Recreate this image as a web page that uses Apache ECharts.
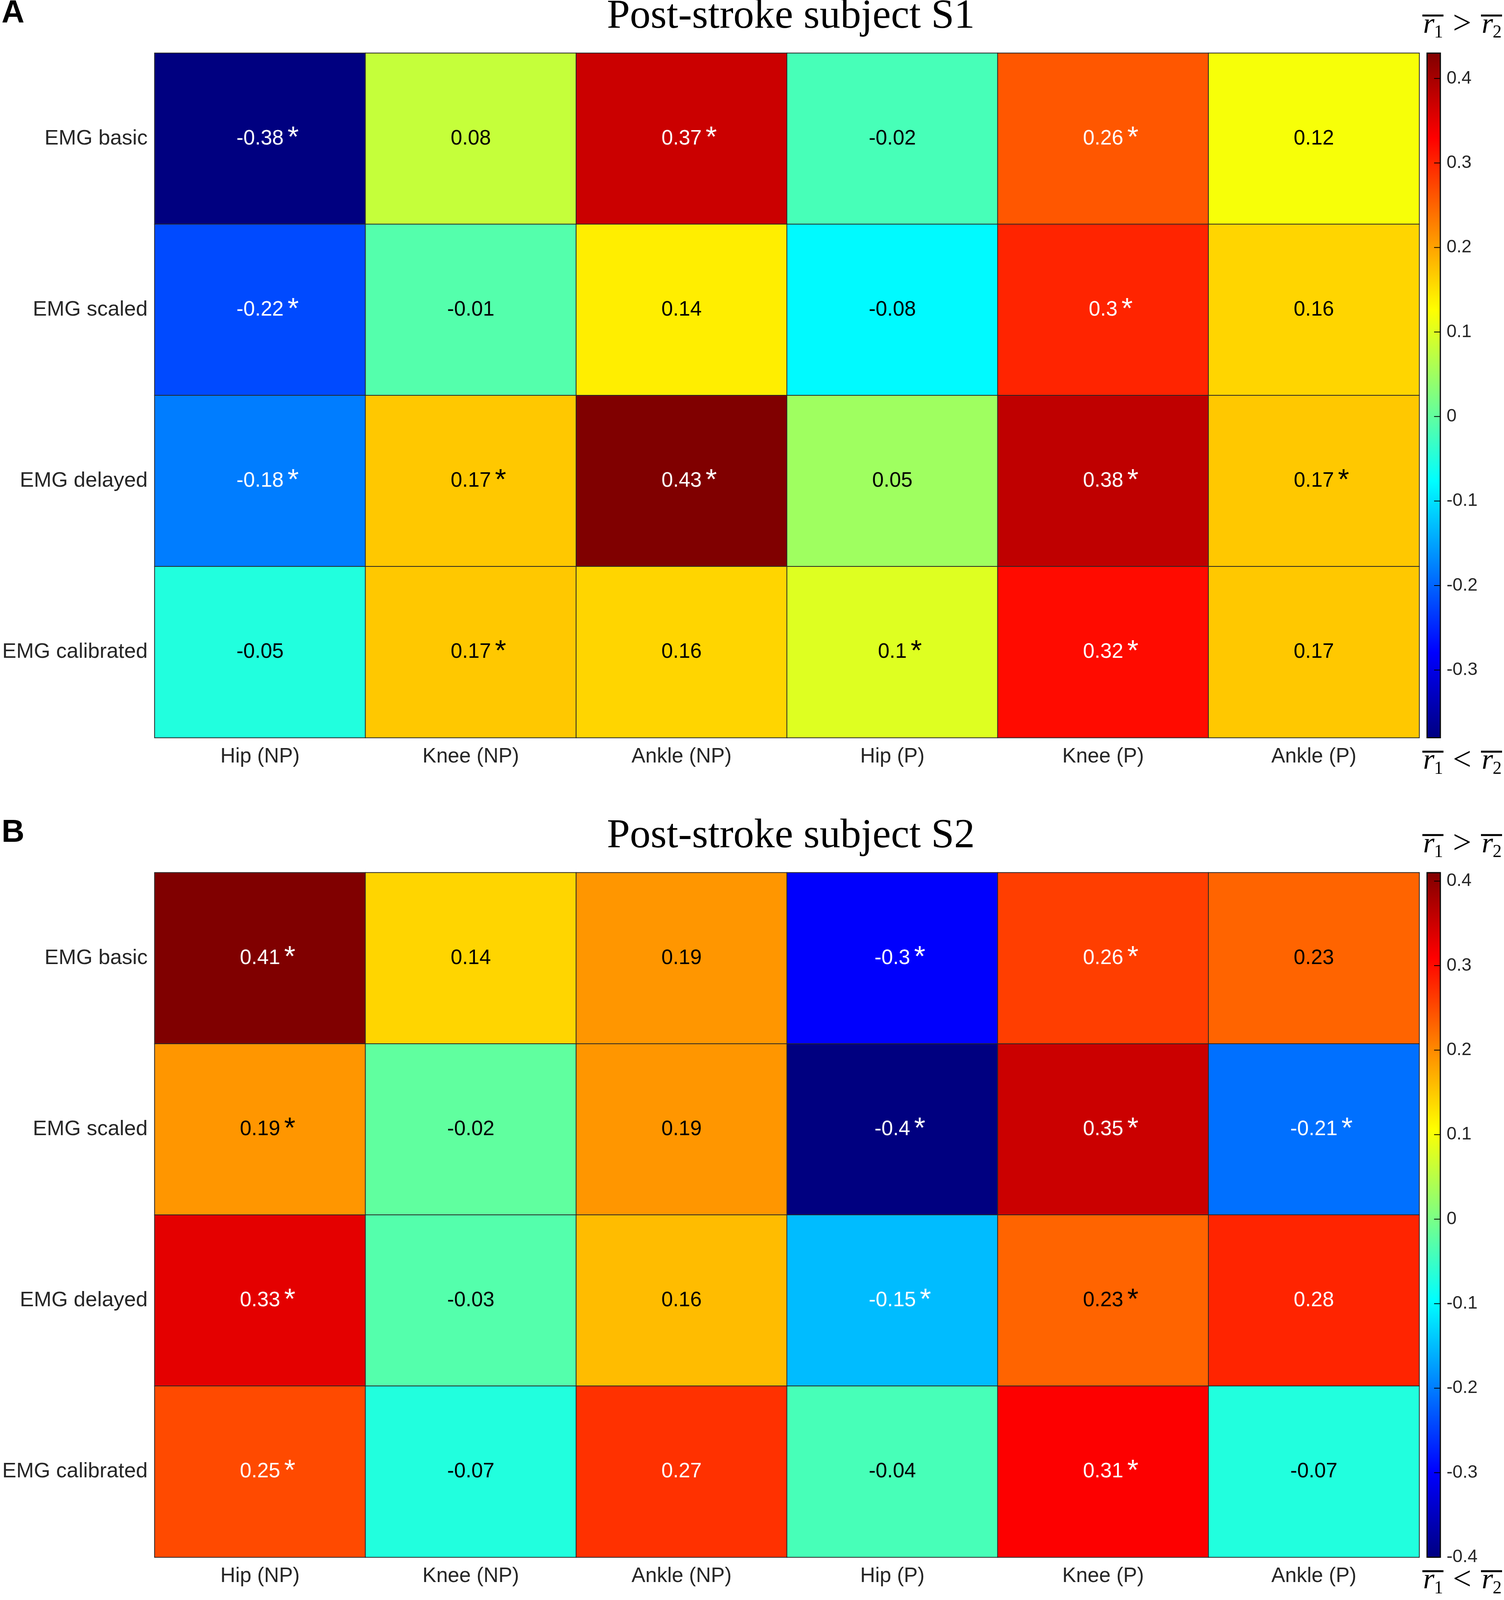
<!DOCTYPE html>
<html>
<head>
<meta charset="utf-8">
<title>Post-stroke subjects S1 / S2</title>
<script src="https://cdn.jsdelivr.net/npm/echarts@6/dist/echarts.min.js"></script>
<style>
  html, body { margin: 0; padding: 0; background: #fff; overflow: hidden; }
  #chart { width: 3851px; height: 4338px; }
</style>
</head>
<body>
<div id="chart"></div>
<script>
// joints (columns) and EMG models (rows)
const joints = ["Hip (NP)", "Knee (NP)", "Ankle (NP)", "Hip (P)", "Knee (P)", "Ankle (P)"];
const models = ["EMG basic", "EMG scaled", "EMG delayed", "EMG calibrated"];

// subject S1
const s1Values = [
  [-0.38, 0.08, 0.37, -0.02, 0.26, 0.12],
  [-0.22, -0.01, 0.14, -0.08, 0.3, 0.16],
  [-0.18, 0.17, 0.43, 0.05, 0.38, 0.17],
  [-0.05, 0.17, 0.16, 0.1, 0.32, 0.17]
];
const s1Signif = [
  [1, 0, 1, 0, 1, 0],
  [1, 0, 0, 0, 1, 0],
  [1, 1, 1, 0, 1, 1],
  [0, 1, 0, 1, 1, 0]
];

// subject S2
const s2Values = [
  [0.41, 0.14, 0.19, -0.3, 0.26, 0.23],
  [0.19, -0.02, 0.19, -0.4, 0.35, -0.21],
  [0.33, -0.03, 0.16, -0.15, 0.23, 0.28],
  [0.25, -0.07, 0.27, -0.04, 0.31, -0.07]
];
const s2Signif = [
  [1, 0, 0, 1, 1, 0],
  [1, 0, 0, 1, 1, 1],
  [1, 0, 0, 1, 1, 0],
  [1, 0, 0, 0, 1, 0]
];

// colorbar tick labels
const s1Ticks = [-0.3, -0.2, -0.1, 0, 0.1, 0.2, 0.3, 0.4];
const s2Ticks = [-0.4, -0.3, -0.2, -0.1, 0, 0.1, 0.2, 0.3, 0.4];

const titles = ["Post-stroke subject S1", "Post-stroke subject S2"];
const panelLetters = ["A", "B"];

// matlab jet
const JET = ["#000080", "#0000ff", "#0080ff", "#00ffff", "#80ff80", "#ffff00", "#ff8000", "#ff0000", "#800000"];
const SANS = "Liberation Sans, Arial, Helvetica, sans-serif";
const SERIF = "Liberation Serif, Times New Roman, serif";
const TXT = "#262626";

// the layout is measured on a 3851 x 4338 page; stretch it to the real viewport height
const dom = document.getElementById("chart");
const viewH = window.innerHeight || 4338;
dom.style.height = viewH + "px";
const sy = viewH / 4338;
const Y = (v) => v * sy;

const GRID_LEFT = 396, GRID_W = 3238, GRID_H = 1856;
const CB_LEFT = 3654, CB_W = 34;
const PANEL_TOP = [144, 2366];
const DY = PANEL_TOP[1] - PANEL_TOP[0];

function cells(values, signif) {
  const out = [];
  values.forEach((row, r) => row.forEach((v, c) => {
    out.push({
      value: [c, r, v, signif[r][c]],
      label: { color: (v >= 0.25 || v <= -0.15) ? "#fff" : "#000" }
    });
  }));
  return out;
}

function flat(values) {
  return values.reduce((a, r) => a.concat(r), []);
}

const panels = [
  { values: s1Values, signif: s1Signif, ticks: s1Ticks },
  { values: s2Values, signif: s2Signif, ticks: s2Ticks }
];

const grid = [], xAxis = [], yAxis = [], series = [], visualMap = [], graphic = [];

panels.forEach((p, i) => {
  const top = Y(PANEL_TOP[i]);
  const h = Y(GRID_H);
  const all = flat(p.values);
  const vmin = Math.min(...all), vmax = Math.max(...all);

  // heatmap grid
  grid.push({ left: GRID_LEFT, top: top, width: GRID_W, height: h });
  xAxis.push({
    type: "category", gridIndex: grid.length - 1, data: joints, position: "bottom",
    axisLine: { show: false }, axisTick: { show: false }, splitArea: { show: false },
    axisLabel: { fontSize: 53, fontFamily: SANS, color: TXT, margin: Y(24) }
  });
  yAxis.push({
    type: "category", gridIndex: grid.length - 1, data: models, inverse: true,
    axisLine: { show: false }, axisTick: { show: false }, splitArea: { show: false },
    axisLabel: { fontSize: 54, fontFamily: SANS, color: TXT, margin: 18 }
  });
  const heatIndex = series.length;
  series.push({
    type: "heatmap",
    xAxisIndex: xAxis.length - 1, yAxisIndex: yAxis.length - 1,
    data: cells(p.values, p.signif),
    itemStyle: { borderColor: "#262626", borderWidth: 2 },
    emphasis: { disabled: true },
    label: {
      show: true,
      formatter: (d) => {
        const t = String(d.value[2]);
        return d.value[3] ? "{p| }{n|" + t + "}{s|*}" : "{n|" + t + "}";
      },
      rich: {
        n: { fontSize: 53, fontFamily: SANS },
        s: { fontSize: 74, fontFamily: SANS, padding: [0, 0, 0, 10] },
        p: { width: 39, fontSize: 10 }
      }
    }
  });

  visualMap.push({
    type: "continuous", show: false, seriesIndex: heatIndex, dimension: 2,
    min: vmin, max: vmax, inRange: { color: JET }
  });

  // colorbar: gradient strip, a value axis for the labels, short inner ticks
  graphic.push({
    type: "rect", z: 1,
    shape: { x: CB_LEFT, y: top, width: CB_W, height: h },
    style: {
      fill: new echarts.graphic.LinearGradient(0, 0, 0, 1,
        JET.slice().reverse().map((c, k) => ({ offset: k / (JET.length - 1), color: c }))),
      stroke: "#000", lineWidth: 3
    }
  });
  grid.push({ left: CB_LEFT, top: top, width: CB_W, height: h });
  xAxis.push({ type: "value", gridIndex: grid.length - 1, min: 0, max: 1, show: false });
  yAxis.push({
    type: "value", gridIndex: grid.length - 1, position: "right",
    min: vmin, max: vmax,
    axisLine: { show: false },
    splitLine: { show: false },
    axisTick: { show: false },
    axisLabel: {
      customValues: p.ticks, fontSize: 46, fontFamily: SANS, color: TXT, margin: 16,
      formatter: (v) => String(v)
    }
  });
  series.push({
    type: "custom", silent: true, z: 10,
    xAxisIndex: xAxis.length - 1, yAxisIndex: yAxis.length - 1,
    data: p.ticks.map((v) => [1, v]),
    renderItem: (params, api) => {
      const pt = api.coord([1, api.value(1)]);
      return {
        type: "line",
        shape: { x1: pt[0] - 16, y1: pt[1], x2: pt[0], y2: pt[1] },
        style: { stroke: "#000", lineWidth: 2 }
      };
    }
  });
});

// r-bar labels: top "r1 > r2", bottom "r1 < r2"; b = baseline of r
function rbar(x, b, sub) {
  return [
    { type: "text", z: 5, x: x, y: Y(b - 24), style: { text: "r", font: "italic 74px " + SERIF, fill: "#000", verticalAlign: "middle" } },
    { type: "text", z: 5, x: x + 28, y: Y(b - 3), style: { text: sub, font: "46px " + SERIF, fill: "#000", verticalAlign: "middle" } },
    { type: "line", z: 5, shape: { x1: x - 2, y1: Y(b - 50), x2: x + 52, y2: Y(b - 50) }, style: { stroke: "#000", lineWidth: 5 } }
  ];
}
function relLabel(b, sym) {
  return [].concat(
    rbar(3644, b, "1"),
    [{ type: "text", z: 5, x: 3720, y: Y(b - 24), style: { text: sym, font: "84px " + SERIF, fill: "#000", verticalAlign: "middle" } }],
    rbar(3794, b, "2")
  );
}

[0, 1].forEach((i) => {
  const off = i * DY;
  graphic.push({ type: "text", x: 4, y: Y(-6 + off), style: { text: panelLetters[i], font: "bold 81px " + SANS, fill: "#000", verticalAlign: "top" } });
  graphic.push({ type: "text", x: 2025, y: Y(46 + off), style: { text: titles[i], font: "106px " + SERIF, fill: "#000", align: "center", verticalAlign: "middle" } });
  graphic.push(...relLabel(92 + off, ">"));
  graphic.push(...relLabel(2088 + off, "<"));
});

const chart = echarts.init(dom);
chart.setOption({
  animation: false,
  backgroundColor: "#fff",
  grid, xAxis, yAxis, series, visualMap, graphic
});
</script>
</body>
</html>
